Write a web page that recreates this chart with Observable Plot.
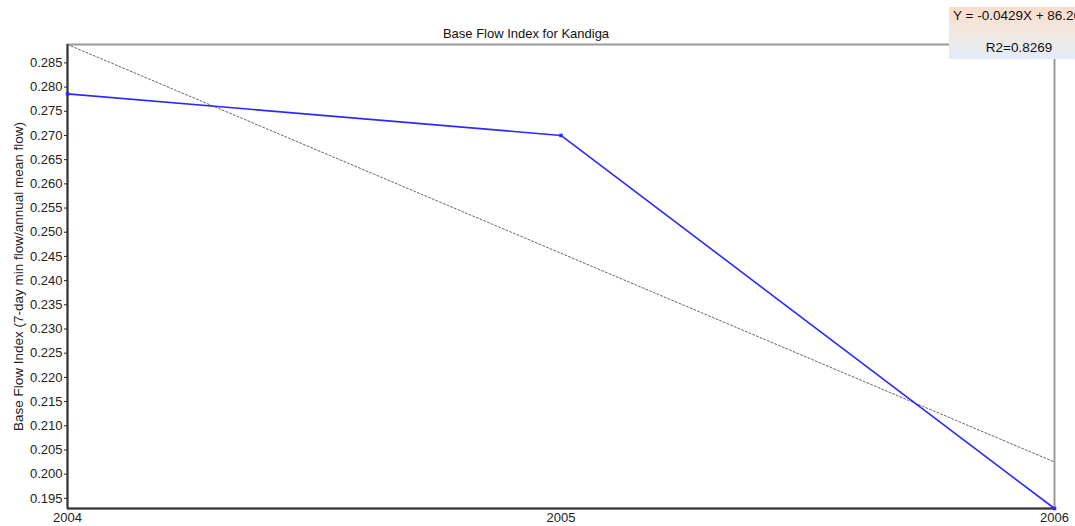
<!DOCTYPE html>
<html>
<head>
<meta charset="utf-8">
<script src="https://cdn.jsdelivr.net/npm/d3@7"></script>
<script src="https://cdn.jsdelivr.net/npm/@observablehq/plot@0.6"></script>
<style>
  html, body { margin: 0; padding: 0; background: #fff; }
  #wrap { position: relative; width: 1075px; height: 526px; overflow: hidden; font-family: "Liberation Sans", Arial, sans-serif; }
  #eq { position: absolute; left: 949px; top: 7px; width: 140px; height: 52px;
        background: linear-gradient(to bottom, #fbdccb 0%, #f1e8e0 50%, #e2ecf9 100%);
        font-size: 13.5px; color: #111; }
  #eq .l1 { position: absolute; left: 4px; top: 1px; white-space: nowrap; }
  #eq .l2 { position: absolute; left: 0; width: 140px; text-align: center; top: 33px; white-space: nowrap; }
</style>
</head>
<body>
<div id="wrap"></div>
<script>
const years = [2004, 2005, 2006];
const bfi = [0.2786, 0.2700, 0.1929];
const trendYears = [2004, 2006];
const trendValues = [0.2888, 0.2025];
const yTicks = [0.195, 0.200, 0.205, 0.210, 0.215, 0.220, 0.225, 0.230, 0.235, 0.240, 0.245, 0.250, 0.255, 0.260, 0.265, 0.270, 0.275, 0.280, 0.285];
const xTicks = [2004, 2005, 2006];
const title = "Base Flow Index for Kandiga";
const yLabel = "Base Flow Index (7-day min flow/annual mean flow)";
const eqLine = "Y = -0.0429X + 86.2635";
const r2Line = "R2=0.8269";

const data = years.map((x, i) => ({x, y: bfi[i]}));
const trend = trendYears.map((x, i) => ({x, y: trendValues[i]}));

const chart = Plot.plot({
  width: 1075,
  height: 526,
  marginLeft: 67,
  marginRight: 21,
  marginTop: 44,
  marginBottom: 18,
  style: {fontFamily: "Liberation Sans, Arial, sans-serif", fontSize: "13px", color: "#222", background: "#fff"},
  x: {domain: [2004, 2006]},
  y: {domain: [0.1929, 0.2888]},
  marks: [
    Plot.frame({stroke: "#9a9a9a", strokeWidth: 2}),
    Plot.axisY({ticks: yTicks, tickFormat: d3.format(".3f"), tickSize: 3, tickPadding: 2, label: null, fontSize: 13}),
    Plot.axisX({ticks: xTicks, tickFormat: d => String(d), tickSize: 0, tickPadding: 4, label: null, fontSize: 13}),
    Plot.ruleX([2004], {stroke: "#333", strokeWidth: 2}),
    Plot.ruleY([0.1929], {stroke: "#333", strokeWidth: 2}),
    Plot.line(trend, {x: "x", y: "y", stroke: "#666", strokeWidth: 1, strokeDasharray: "2,2"}),
    Plot.line(data, {x: "x", y: "y", stroke: "#2a2aff", strokeWidth: 1.6}),
    Plot.dot(data, {x: "x", y: "y", symbol: "square", r: 2, fill: "#2a2aff", stroke: "none"}),
    Plot.text([title], {frameAnchor: "top", dx: -35, dy: -16, fontSize: 13, fill: "#111"}),
    Plot.text([yLabel], {frameAnchor: "left", textAnchor: "middle", dx: -49, rotate: -90, fontSize: 13.5, fill: "#222"})
  ]
});

const wrap = document.getElementById("wrap");
wrap.appendChild(chart);
const eq = document.createElement("div");
eq.id = "eq";
eq.innerHTML = `<div class="l1">${eqLine}</div><div class="l2">${r2Line}</div>`;
wrap.appendChild(eq);
</script>
</body>
</html>
